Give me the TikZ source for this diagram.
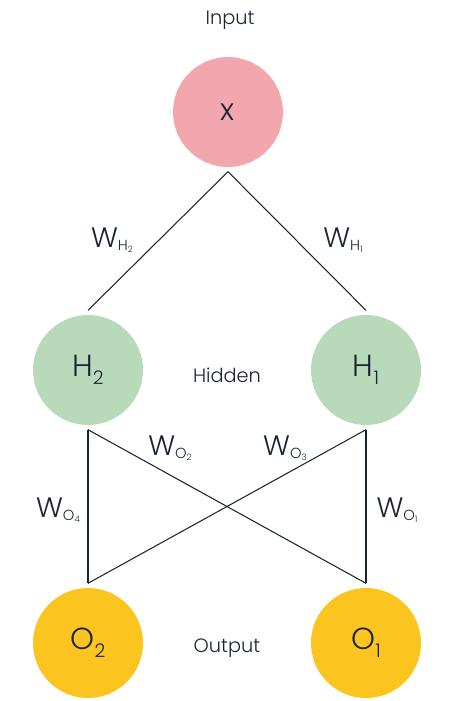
\documentclass[tikz,border=0pt]{standalone}
\usepackage{fontspec}
\setmainfont{Poppins}[UprightFont=* Light]
\usepackage{xcolor}
\definecolor{inpink}{HTML}{F2A7AE}
\definecolor{hidgreen}{HTML}{B8DABB}
\definecolor{outyellow}{HTML}{FCC41E}
\definecolor{ink}{HTML}{1B2433}
\newcommand{\fs}[1]{\fontsize{#1}{#1}\selectfont}
\newcommand{\wlab}[2]{{\fs{24}W}\raisebox{-2.5pt}{\fs{12.5}#1\raisebox{-2pt}{\fs{7.5}#2}}}
\newcommand{\nlab}[2]{{\fs{26}#1}\raisebox{-6.5pt}{\fs{16}#2}}

\begin{document}
\begin{tikzpicture}[x=0.03cm,y=-0.03cm,
  neuron/.style={circle,minimum size=3.3cm,inner sep=0pt,outer sep=4pt,text=ink},
  tag/.style={text=ink,font=\fs{16.5}},
  wlabel/.style={text=ink,inner sep=0pt},
  wire/.style={draw=ink,line width=0.9pt}]
  \useasboundingbox (0,0) rectangle (455,701);
  \node[tag] (in) at (230,20) {Input};
  \node[neuron,fill=inpink] (X) at (228,112) {\fs{26}x};
  \node[neuron,fill=hidgreen] (H2) at (88,370) {\nlab{H}{2}};
  \node[neuron,fill=hidgreen] (H1) at (366,370) {\nlab{H}{1}};
  \node[tag] (hid) at (227,375) {Hidden};
  \node[neuron,fill=outyellow] (O2) at (88,643) {\nlab{O}{2}};
  \node[neuron,fill=outyellow] (O1) at (366,643) {\nlab{O}{1}};
  \node[tag] (out) at (227,648) {Output};
  \draw[wire] (X.south) -- (H2.north); \draw[wire] (X.south) -- (H1.north);
  \draw[wire] (H2.south) -- (O2.north); \draw[wire] (H1.south) -- (O1.north);
  \draw[wire] (H2.south) -- (O1.north); \draw[wire] (H1.south) -- (O2.north);
  \node[wlabel] (wh2) at (112,240) {\wlab{H}{2}};
  \node[wlabel] (wh1) at (343,240) {\wlab{H}{1}};
  \node[wlabel] (wo2) at (170,448) {\wlab{O}{2}};
  \node[wlabel] (wo3) at (285,448) {\wlab{O}{3}};
  \node[wlabel] (wo4) at (58,510) {\wlab{O}{4}};
  \node[wlabel] (wo1) at (397,510) {\wlab{O}{1}};
\end{tikzpicture}
\end{document}
